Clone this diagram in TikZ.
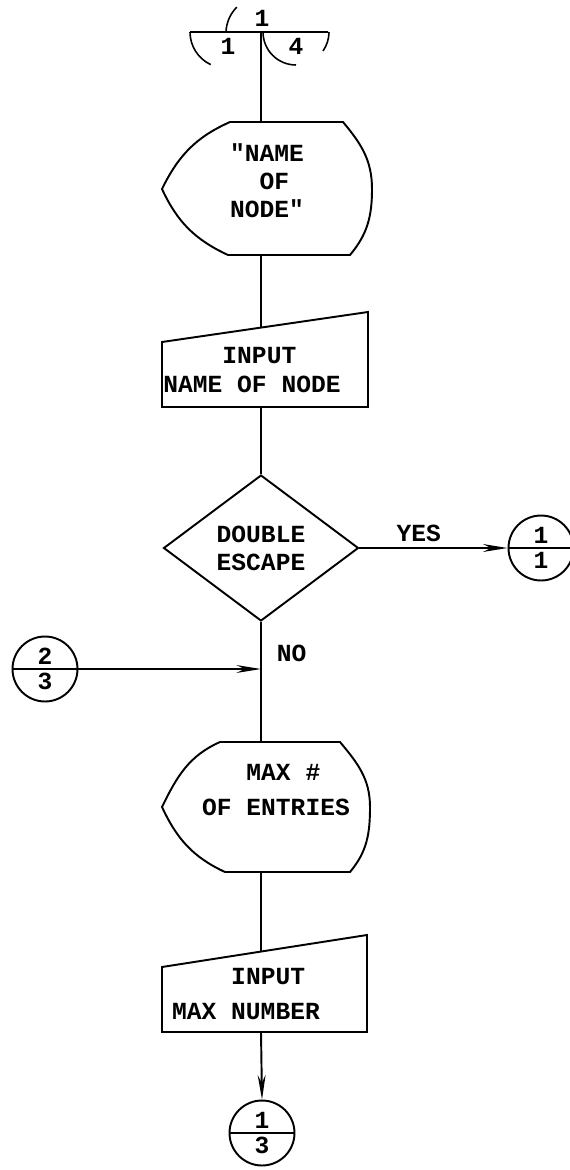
\documentclass[tikz,border=0pt]{standalone}
\usepackage{fontspec}
\setmonofont{Liberation Mono}
\usetikzlibrary{arrows.meta,shapes.geometric,shapes.multipart}

\begin{document}
\begin{tikzpicture}[x=0.02cm, y=0.02cm, line width=1.1pt,
  txt/.style={font=\ttfamily\bfseries\fontsize{14}{16}\selectfont, align=left, inner sep=0pt},
  decision/.style={diamond, draw, minimum width=3.9cm, minimum height=2.92cm,
                   inner sep=0pt, align=center, font=\ttfamily\bfseries\fontsize{14}{16}\selectfont},
  conn/.style={circle split, draw, minimum size=1.3cm, inner sep=2pt,
               font=\ttfamily\bfseries\fontsize{14}{16}\selectfont},
  arr/.style={-{Stealth[length=14pt,width=4.5pt]}}
]
  \useasboundingbox (0,0) rectangle (570,-1170);

  % off-page connector at the top
  \coordinate (top) at (261,-32);
  \draw (190,-32) -- (328,-32);
  \draw[line width=0.9pt] (226,-32) arc[start angle=178, end angle=135, radius=0.74cm];
  \draw[line width=0.9pt] (190,-32) arc[start angle=180, end angle=245, radius=0.72cm];
  \draw[line width=0.9pt] (263,-32) arc[start angle=180, end angle=270, radius=0.66cm];
  \draw[line width=0.9pt] (329,-32) arc[start angle=0, end angle=-35, radius=0.66cm];
  \node[txt] (t1) at (262,-18) {1};
  \node[txt] (t2) at (228,-46) {1};
  \node[txt] (t3) at (296,-46) {4};

  % display: name of node
  \draw (230,-122) -- (343,-122) to[out=-50,in=90] (372,-189)
        to[out=-90,in=50] (350,-255) -- (228,-255)
        to[out=155,in=-65] (162,-189) to[out=64,in=-156] cycle;
  \coordinate (disp1in) at (261,-122);
  \coordinate (disp1out) at (261,-255);
  \node[txt] (disp1) at (267,-181) {"NAME\\~~OF\\NODE"};

  % manual input: name of node
  \draw (162,-342) -- (368,-312) -- (368,-407) -- (162,-407) -- cycle;
  \coordinate (in1in) at (261,-327);
  \coordinate (in1out) at (261,-407);
  \node[txt] (in1) at (252,-370) {~~~~INPUT\\NAME~OF~NODE};

  % decision
  \node[decision] (dbl) at (261,-548) {DOUBLE\\ESCAPE};

  % connectors 1/1 and 2/3
  \node[conn] (c11) at (541,-548) {1\nodepart{lower}1};
  \node[conn] (c23) at (45,-669) {2\nodepart{lower}3};
  \coordinate (merge) at (261,-669);

  % display: max # of entries
  \draw (220,-742) -- (340,-742) to[out=-50,in=90] (370,-807)
        to[out=-90,in=50] (350,-872) -- (225,-872)
        to[out=155,in=-65] (162,-807) to[out=64,in=-156] cycle;
  \coordinate (disp2in) at (261,-742);
  \coordinate (disp2out) at (261,-872);
  \node[txt] (disp2) at (276,-790) {~~~MAX~\#\\[3.5pt]OF~ENTRIES};

  % manual input: max number
  \draw (162,-967) -- (367,-935) -- (367,-1032) -- (162,-1032) -- cycle;
  \coordinate (in2in) at (261,-951);
  \coordinate (in2out) at (261,-1032);
  \node[txt] (in2) at (246,-994) {~~~~INPUT\\[3.5pt]MAX~NUMBER};

  % connector 1/3
  \node[conn] (c13) at (262,-1133) {1\nodepart{lower}3};

  % flow lines
  \draw (top) -- (disp1in);
  \draw (disp1out) -- (in1in);
  \draw (in1out) -- (dbl.north);
  \draw (dbl.south) -- node[txt, pos=0.67, right=8.5pt] (no) {NO} (merge) -- (disp2in);
  \draw[arr] (dbl.east) -- node[txt, pos=0.4, above=3pt] (yes) {YES} (c11.west);
  \draw[arr] (c23.east) -- (merge);
  \draw (disp2out) -- (in2in);
  \draw[arr] (in2out) -- (c13.north);
\end{tikzpicture}
\end{document}
